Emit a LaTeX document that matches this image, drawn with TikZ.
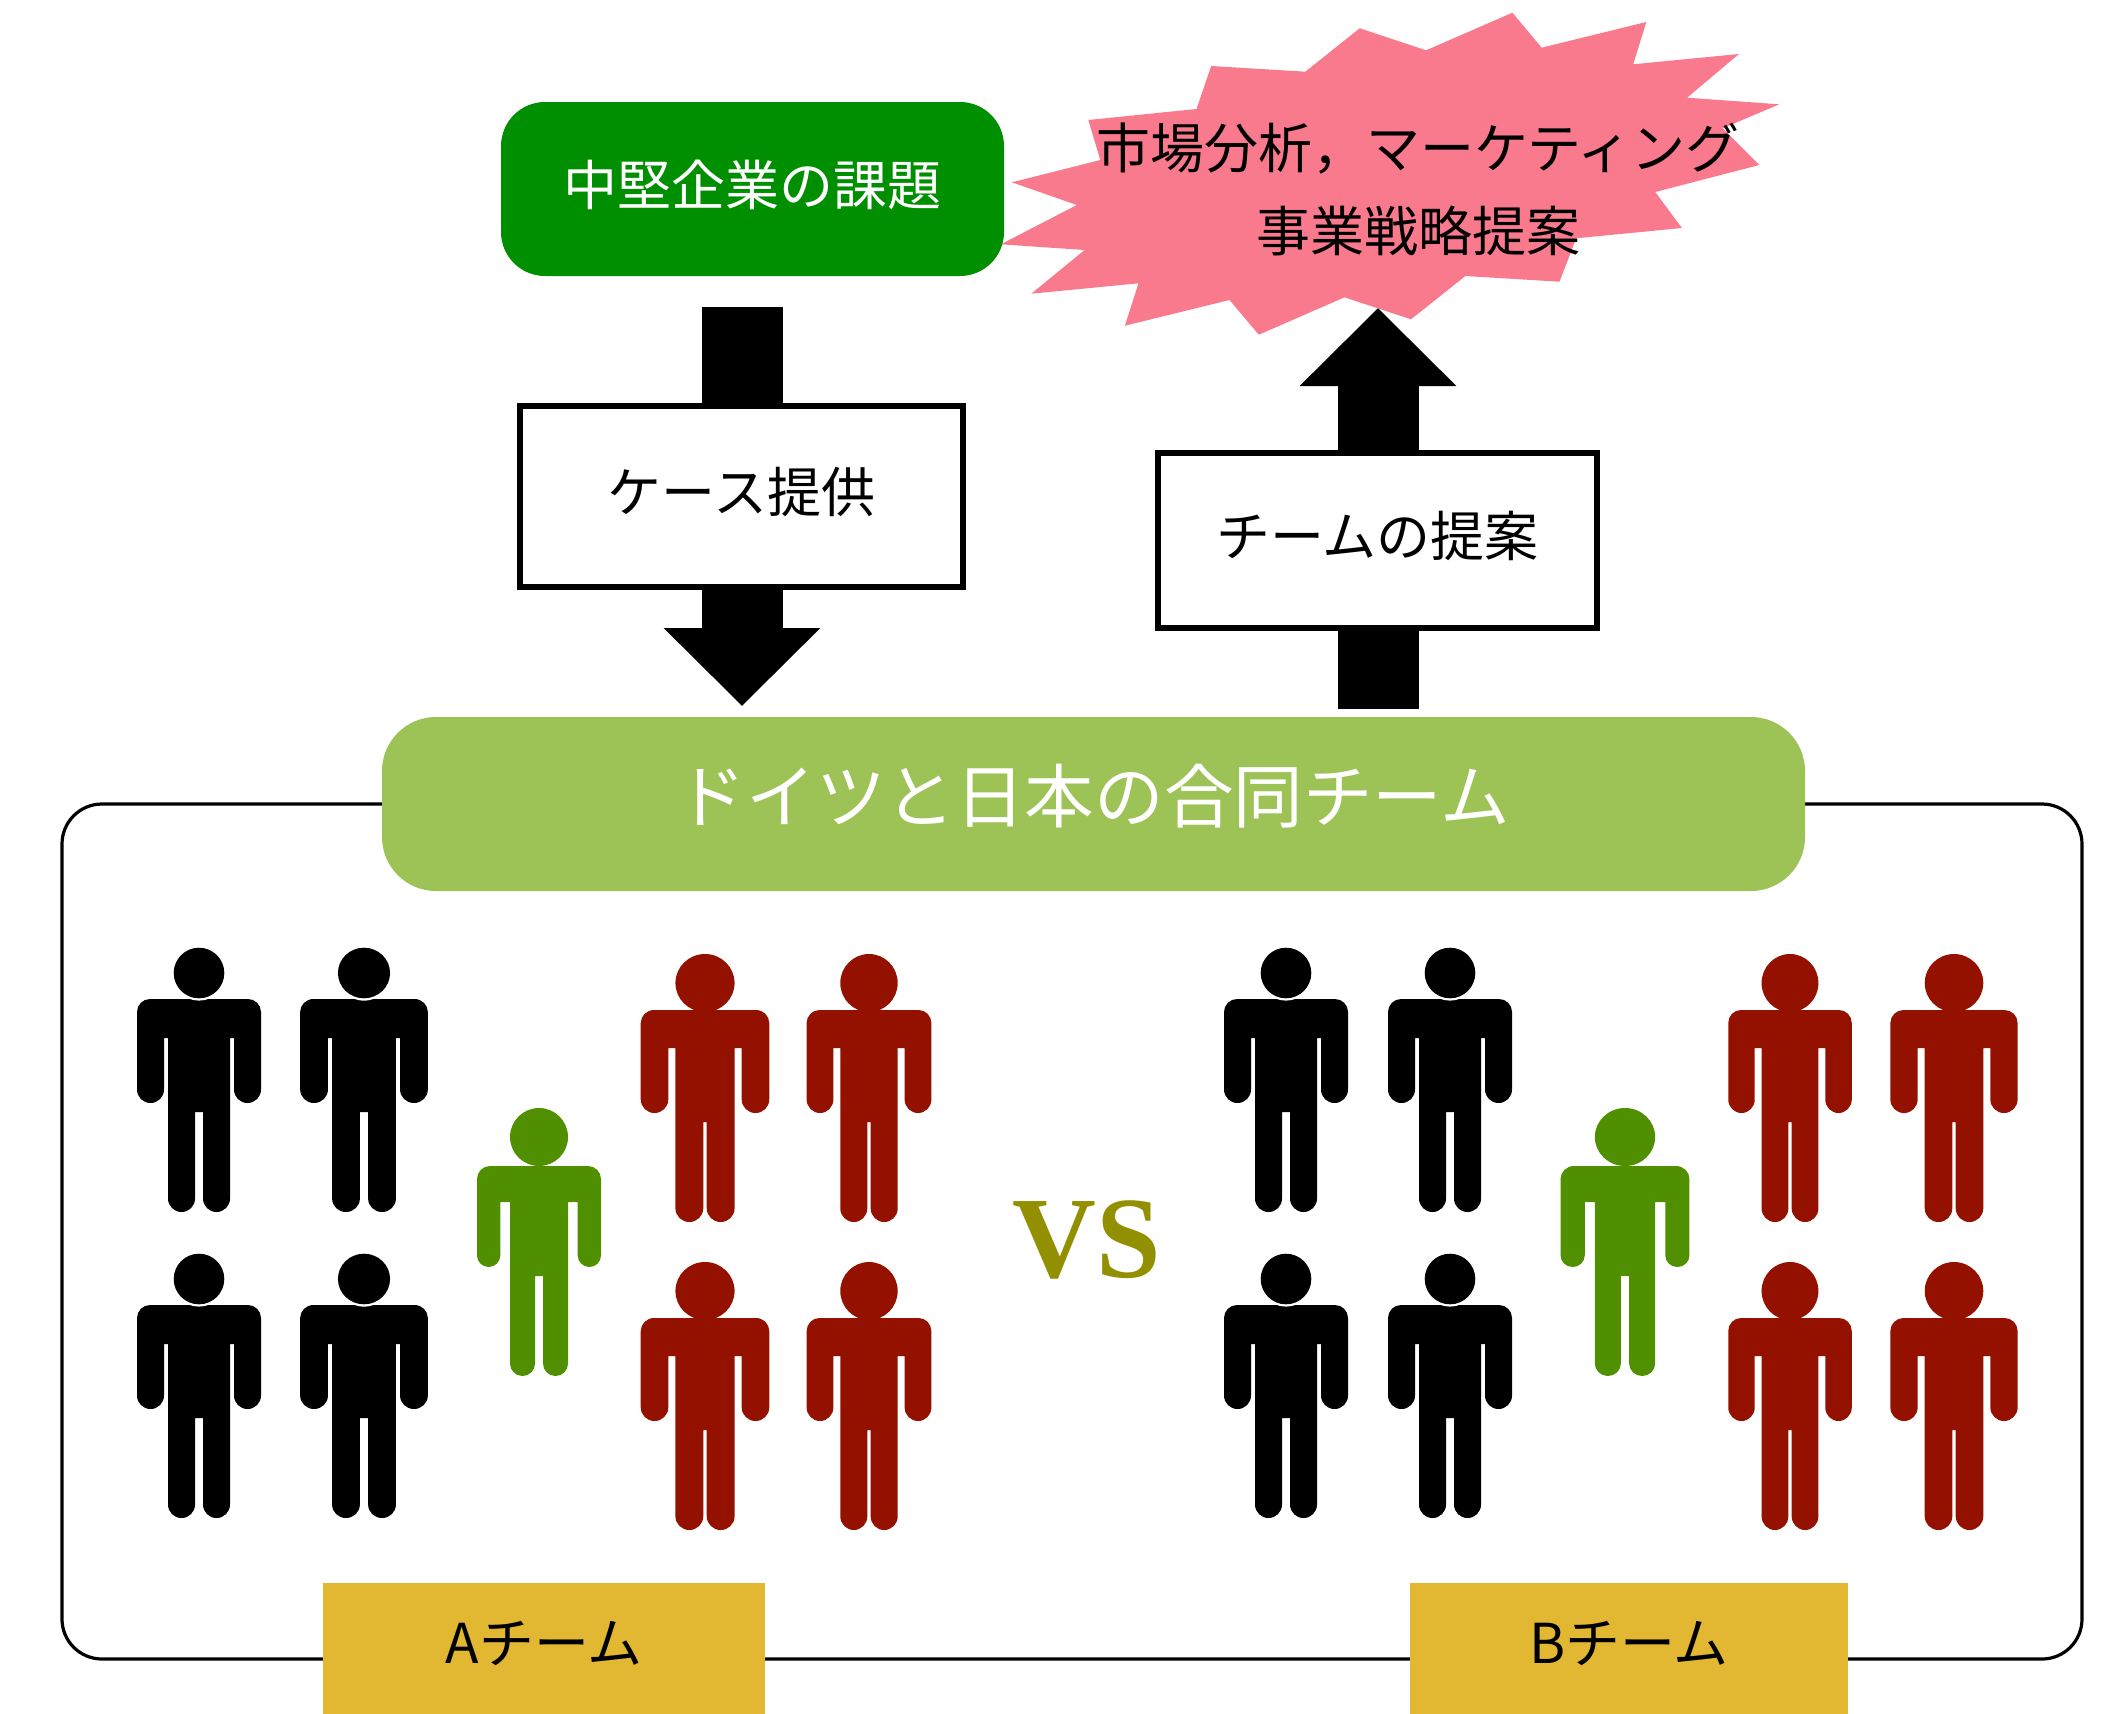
\documentclass[tikz,border=0pt]{standalone}
\usepackage{fontspec}
\setmainfont{Noto Sans CJK JP}
\newfontfamily\vsfont{Liberation Serif Bold}
\usetikzlibrary{arrows.meta}
\definecolor{clover}{HTML}{008F00}
\definecolor{salmonstar}{HTML}{F9798D}
\definecolor{barolive}{HTML}{9DC256}
\definecolor{tagyellow}{HTML}{E2B731}
\definecolor{cayenne}{HTML}{941100}
\definecolor{fern}{HTML}{4F8F00}
\definecolor{vsolive}{HTML}{929000}
% colour, head r, ring r, shoulder, half width, arm width, half torso, half gap
\newcommand{\manshape}[8]{
  \fill[#1] (-#5,#4+13) arc[start angle=180,end angle=270,radius=13]
    -- (#5-13,#4) arc[start angle=270,end angle=360,radius=13]
    -- (#5,130-#6/2) arc[start angle=0,end angle=180,radius=#6/2]
    -- (#5-#6,65) -- (#7,65)
    -- (#7,239-#7/2+#8/2) arc[start angle=0,end angle=180,radius=#7/2-#8/2]
    -- (#8,139) -- (-#8,139)
    -- (-#8,239-#7/2+#8/2) arc[start angle=0,end angle=180,radius=#7/2-#8/2]
    -- (-#7,65) -- (-#5+#6,65)
    -- (-#5+#6,130-#6/2) arc[start angle=0,end angle=180,radius=#6/2]
    -- cycle;
  \fill[white] (0,0) circle[radius=#3];
  \fill[#1] (0,0) circle[radius=#2];
}
\tikzset{
  bigtext/.style={font=\fontsize{27}{41.5}\selectfont,align=center},
  raisedtext/.style={bigtext,text height=23.8pt,text depth=7.4pt},
  titlebox/.style={rounded corners=22pt,fill=clover,text=white,inner sep=0pt,raisedtext},
  casebox/.style={draw=black,line width=3.4pt,fill=white,inner sep=0pt,raisedtext},
  teambar/.style={rounded corners=27pt,fill=barolive,text=white,inner sep=0pt,
    font=\fontsize{34.8}{41}\selectfont,text height=31pt,text depth=12.4pt},
  frame/.style={draw=black,line width=1.6pt,rounded corners=20pt,inner sep=0pt},
  teamtag/.style={fill=tagyellow,inner sep=0pt,font=\fontsize{27.5}{41.5}\selectfont,
    text height=24.2pt,text depth=8.8pt},
  blockarrow/.style={line width=40.5pt,
    -{Triangle[length=39pt,width=76pt]}},
  blackman/.pic={\manshape{black}{25.3}{27.6}{26}{62}{27}{31}{4}},
  redman/.pic={\manshape{cayenne}{29}{0}{27}{63}{27}{29}{1.7}},
  greenman/.pic={\manshape{fern}{29}{0}{29}{62}{23.3}{29}{4}}
}
\begin{document}
\begin{tikzpicture}[x=0.5pt,y=-0.5pt]
  \useasboundingbox (0,0) rectangle (2101,1714);
  % burst behind the title
  \fill[salmonstar] (1512.4,12.7) -- (1541.7,47.7) -- (1646.3,22) -- (1633.2,64.3)
    -- (1738.9,54) -- (1687.1,97.7) -- (1779.2,104.3) -- (1722.7,128.3)
    -- (1759.3,165) -- (1655.2,192) -- (1681.9,228) -- (1576.2,238.3)
    -- (1559.5,281.7) -- (1465.4,276) -- (1411,319.3) -- (1344.5,297.3)
    -- (1258.8,334.7) -- (1229.5,300) -- (1124.9,325.7) -- (1138.5,283.3)
    -- (1031.3,293.7) -- (1084.6,250) -- (1000.9,244.3) -- (1076.8,205)
    -- (1011.9,182.3) -- (1100.3,160) -- (1088.3,120) -- (1196.5,109)
    -- (1211.2,66) -- (1305.3,71.7) -- (1359.7,28.3) -- (1426.1,50.3) -- cycle;
  \node[bigtext] (proposal) at (1418,189) {市場分析\char"FF0C マーケティング\\事業戦略提案};
  \node[titlebox,minimum width=251.5pt,minimum height=87pt] (issue) at (752.5,189) {中堅企業の課題};

  % block arrows
  \coordinate (casestart) at (742,307);
  \coordinate (casetip) at (742,706);
  \coordinate (teamstart) at (1378,709);
  \coordinate (teamtip) at (1378,308);
  \draw[blockarrow] (casestart) -- (casetip);
  \draw[blockarrow] (teamstart) -- (teamtip);
  \node[casebox,minimum width=221.5pt,minimum height=90.5pt] (case) at (741.5,496.5) {ケース提供};
  \node[casebox,minimum width=219.5pt,minimum height=87.5pt] (teamplan) at (1377.5,540.5) {チームの提案};

  % frame and team bar
  \node[frame,minimum width=1010pt,minimum height=427.5pt] (frame) at (1072,1231.5) {};
  \node[teambar,minimum width=711.5pt,minimum height=87pt] (jointteam) at (1093.5,804) {ドイツと日本の合同チーム};
  \node[teamtag,minimum width=221pt,minimum height=65.5pt] (teamA) at (544,1648.5) {Aチーム};
  \node[teamtag,minimum width=219pt,minimum height=65.5pt] (teamB) at (1629,1648.5) {Bチーム};
  \node[text=vsolive,font=\vsfont\fontsize{58}{60}\selectfont] (versus) at (1087,1240) {VS};

  % people
  \foreach \px/\sx in {199/1,364/1.03,1286/1,1450/1}
    \foreach \py in {973,1279}
      \pic[xscale=\sx] at (\px,\py) {blackman};
  \foreach \px/\sx in {705/1.02,869/.99,1790/.98,1954/1.01}
    \foreach \py in {983,1291}
      \pic[xscale=\sx] at (\px,\py) {redman};
  \foreach \px/\sx in {539/1,1625/1.04}
    \pic[xscale=\sx] at (\px,1137) {greenman};
\end{tikzpicture}
\end{document}
